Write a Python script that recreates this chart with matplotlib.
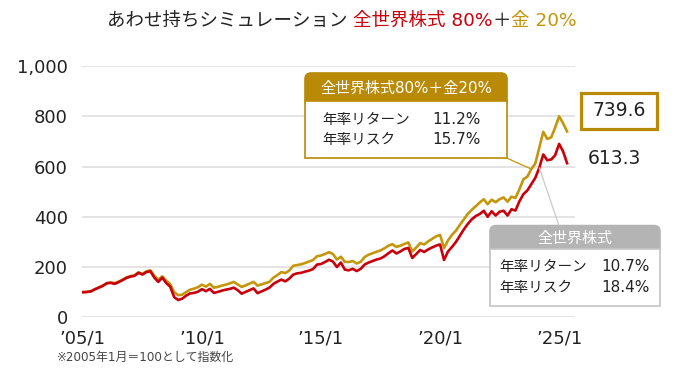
import numpy as np
import pandas as pd
import matplotlib
matplotlib.use('Agg')
from matplotlib import pyplot as plt
from matplotlib.patches import FancyBboxPatch, Rectangle, ConnectionPatch
from matplotlib.offsetbox import TextArea, HPacker, AnchoredOffsetbox

# latin glyphs from DejaVu (wide digits), kana/kanji from Noto CJK
plt.rcParams['font.family'] = ['DejaVu Sans', 'Noto Sans CJK JP']

# index values, every 2 months from 2005/1 (2005/1 = 100)
world = [100, 101, 103, 111, 118, 125, 135, 137, 133, 140, 148, 157,
         162, 165, 177, 170, 180, 183, 158, 141, 158, 136, 122, 80,
         69, 74, 86, 95, 97, 102, 112, 104, 113, 97, 101, 106,
         110, 113, 118, 108, 94, 101, 108, 115, 96, 103, 110, 118,
         133, 142, 150, 143, 154, 170, 175, 177, 182, 186, 192, 210,
         212, 220, 229, 222, 200, 218, 190, 187, 193, 184, 193, 210,
         218, 224, 230, 234, 243, 255, 266, 254, 262, 272, 276, 236,
         252, 268, 260, 270, 278, 285, 290, 228, 262, 280, 300, 325,
         350, 372, 390, 403, 411, 424, 400, 422, 405, 420, 424, 405,
         430, 425, 462, 490, 505, 530, 555, 595, 648, 625, 628, 645,
         690, 660, 613.3]
mix = [100, 101, 104, 112, 119, 126, 136, 139, 136, 142, 150, 159,
       164, 167, 179, 173, 183, 187, 165, 150, 163, 146, 132, 100,
       88, 90, 100, 110, 114, 120, 130, 122, 133, 118, 121, 126,
       130, 135, 141, 131, 121, 127, 134, 141, 126, 131, 136, 141,
       158, 168, 180, 176, 186, 205, 208, 211, 216, 222, 228, 243,
       246, 252, 259, 252, 230, 241, 221, 220, 224, 214, 221, 240,
       249, 255, 261, 266, 275, 285, 291, 280, 285, 292, 298, 262,
       278, 295, 290, 302, 312, 322, 328, 276, 306, 328, 345, 368,
       390, 412, 428, 442, 457, 470, 450, 468, 458, 470, 477, 460,
       480, 475, 510, 549, 560, 590, 612, 675, 738, 710, 716, 755,
       800, 772, 739.6]

tick_years = [2005, 2010, 2015, 2020, 2025]
tick_labels = ['’05/1', '’10/1', '’15/1', '’20/1', '’25/1']
y_ticks = [0, 200, 400, 600, 800, 1000]
y_labels = ['0', '200', '400', '600', '800', '1,000']

mix_name = '全世界株式80%＋金20%'
world_name = '全世界株式'
mix_stats = [('年率リターン', '11.2%'), ('年率リスク', '15.7%')]
world_stats = [('年率リターン', '10.7%'), ('年率リスク', '18.4%')]

RED = '#c8000c'
GOLD = '#c4960c'
GOLD_DARK = '#b98a06'
GRAY = '#b4b4b4'
TXT = '#222222'

dates = pd.date_range('2005-01-01', periods=len(world), freq='2MS')
x = dates.year + (dates.month - 1) / 12

fig = plt.figure(figsize=(6.8, 3.7), dpi=100)
ax = fig.add_axes([0.120, 0.1424, 0.725, 0.6792])

ax.plot(x, mix, color=GOLD, lw=1.9, solid_joinstyle='round')
ax.plot(x, world, color=RED, lw=1.9, solid_joinstyle='round')

ax.set_xlim(2004.945, 2025.65)
ax.set_ylim(0, 1000)
ax.set_yticks(y_ticks)
ax.set_yticklabels(y_labels)
ax.set_xticks(tick_years)
ax.set_xticklabels(tick_labels)
ax.tick_params(length=0, labelsize=13, colors=TXT)
ax.tick_params(axis='y', pad=10)
ax.tick_params(axis='x', pad=8.5)
ax.grid(axis='y', color='#e2e2e2', lw=1.3)
ax.set_axisbelow(True)
for s in ax.spines.values():
    s.set_visible(False)

# overlay in pixel coords for title, boxes and notes
ov = fig.add_axes([0, 0, 1, 1], zorder=5)
ov.set_xlim(0, 680)
ov.set_ylim(370, 0)
ov.axis('off')
ov.patch.set_visible(False)

parts = [('あわせ持ちシミュレーション ', TXT), ('全世界株式 80%', RED),
         ('＋', TXT), ('金 20%', GOLD)]
title = HPacker(children=[TextArea(t, textprops=dict(color=c, fontsize=13.3))
                          for t, c in parts], pad=0, sep=0)
fig.add_artist(AnchoredOffsetbox(loc='center', child=title, frameon=False,
                                 bbox_to_anchor=(342 / 680, 1 - 21 / 370),
                                 bbox_transform=fig.transFigure, pad=0,
                                 borderpad=0))


def stat_box(x0, x1, y0, yh, y1, head_color, edge, name, stats, lab_x, val_x):
    head = FancyBboxPatch((x0, y0), x1 - x0, (yh - y0) + 6,
                          boxstyle='round,pad=0,rounding_size=6',
                          fc=head_color, ec=head_color, lw=1.2)
    ov.add_patch(head)
    ov.add_patch(Rectangle((x0, yh), x1 - x0, y1 - yh, fc='white', ec=edge, lw=1.2))
    ov.text((x0 + x1) / 2, (y0 + yh) / 2 + 1, name, color='white', fontsize=10.8,
            ha='center', va='center')
    step = (y1 - yh) / 2.8
    for i, (lab, val) in enumerate(stats):
        yy = yh + step * (0.9 + i)
        ov.text(lab_x, yy, lab, color=TXT, fontsize=10.5, ha='left', va='center')
        ov.text(val_x, yy, val, color=TXT, fontsize=11, ha='right', va='center')


stat_box(305, 507, 73, 101, 157.5, GOLD_DARK, GOLD_DARK, mix_name, mix_stats, 322, 481)
stat_box(490, 660, 225.6, 248.5, 305.7, GRAY, '#c4c4c4', world_name, world_stats, 499, 650)

ov.add_artist(ConnectionPatch(xyA=(505.5, 157.5), coordsA=ov.transData,
                              xyB=(x[113], mix[113]), coordsB=ax.transData,
                              color=GOLD, lw=0.9, zorder=1))
ov.add_artist(ConnectionPatch(xyA=(559, 225.6), coordsA=ov.transData,
                              xyB=(x[115], world[115]), coordsB=ax.transData,
                              color='#c8c8c8', lw=0.9, zorder=1))

# end values
ov.add_patch(Rectangle((581, 93), 76, 36, fc='white', ec=GOLD_DARK, lw=2.3))
ov.text(619, 111, f'{mix[-1]:.1f}', color=TXT, fontsize=13.5, ha='center', va='center')
ov.text(614, 158, f'{world[-1]:.1f}', color=TXT, fontsize=13.5, ha='center', va='center')

ov.text(57, 357, '※2005年1月＝100として指数化', color='#444444', fontsize=8.6,
        ha='left', va='center')

fig.savefig('out.png', dpi=100)
